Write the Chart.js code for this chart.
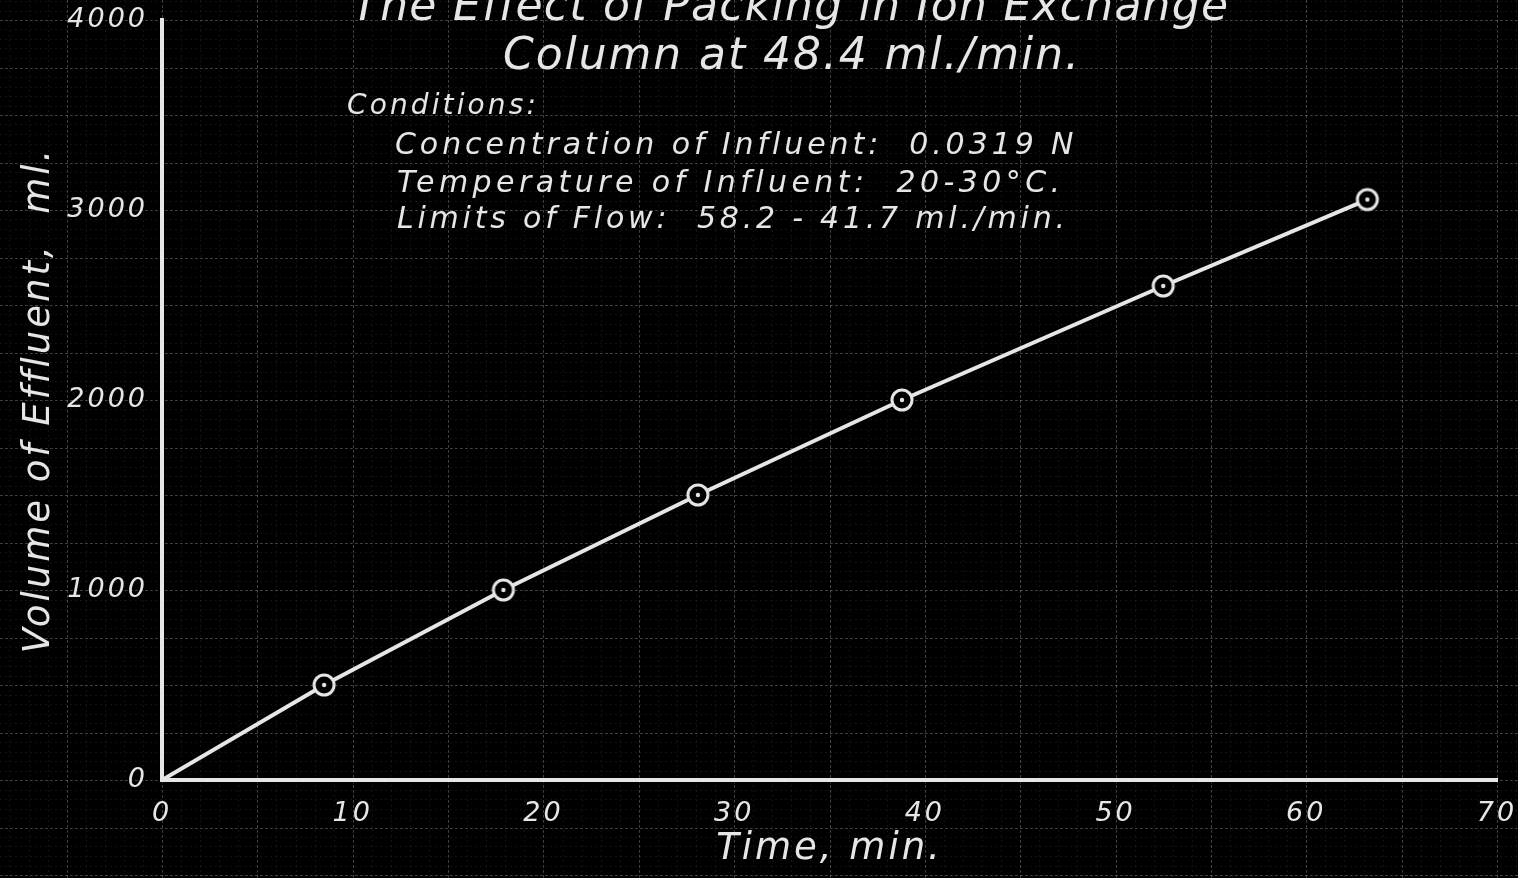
<!DOCTYPE html>
<html>
<head>
<meta charset="utf-8">
<script src="https://cdn.jsdelivr.net/npm/chart.js@4/dist/chart.umd.min.js"></script>
<style>
  html, body { margin: 0; padding: 0; background: #000; overflow: hidden; }
  canvas { display: block; }
</style>
</head>
<body>
<canvas id="myChart" width="1518" height="878"></canvas>
<script>
    // data
    const timeMin = [0, 8.5, 17.9, 28.1, 38.8, 52.5, 63.2];
    const volumeMl = [0, 500, 1000, 1500, 2000, 2600, 3055];
    const xTicks = [0, 10, 20, 30, 40, 50, 60, 70];
    const yTicks = [0, 1000, 2000, 3000, 4000];
    const titleLines = ['The Effect of Packing in Ion Exchange', 'Column at 48.4 ml./min.'];
    const conditionsHead = 'Conditions:';
    const conditionLines = [
      'Concentration of Influent:  0.0319 N',
      'Temperature of Influent:  20-30°C.',
      'Limits of Flow:  58.2 - 41.7 ml./min.'
    ];

    const ink = '#e6e6e6';
    const fontFam = '"DejaVu Sans", sans-serif';

    // ring marker with a dot in the middle
    const marker = document.createElement('canvas');
    marker.width = 28; marker.height = 28;
    (function () {
      const m = marker.getContext('2d');
      m.fillStyle = '#000';
      m.beginPath(); m.arc(14, 14, 11, 0, Math.PI * 2); m.fill();
      m.strokeStyle = ink; m.lineWidth = 3;
      m.beginPath(); m.arc(14, 14, 10, 0, Math.PI * 2); m.stroke();
      m.fillStyle = ink;
      m.beginPath(); m.arc(14, 14, 2.2, 0, Math.PI * 2); m.fill();
    })();

    // text stretched to a given width
    function letterText(ctx, text, x, y, size, width, align) {
      ctx.font = 'italic ' + size + 'px ' + fontFam;
      ctx.letterSpacing = '0px';
      const w = ctx.measureText(text).width;
      const sp = Math.max(0, (width - w) / text.length);
      ctx.letterSpacing = sp.toFixed(2) + 'px';
      ctx.textAlign = 'left';
      ctx.textBaseline = 'alphabetic';
      let x0 = x;
      if (align === 'center') x0 = x - width / 2;
      ctx.fillText(text, x0, y);
    }

    const paperPlugin = {
      id: 'paper',
      beforeDraw(chart) {
        const { ctx, scales: { x, y } } = chart;
        const W = chart.width, H = chart.height;
        ctx.save();
        ctx.fillStyle = '#000';
        ctx.fillRect(0, 0, W, H);
        // fine grid
        ctx.setLineDash([2, 3]);
        ctx.lineWidth = 1;
        ctx.strokeStyle = 'rgba(255,255,255,0.07)';
        for (let v = -10; v <= 75; v += 1) {
          const px = Math.round(x.getPixelForValue(v)) + 0.5;
          ctx.beginPath(); ctx.moveTo(px, 0); ctx.lineTo(px, H); ctx.stroke();
        }
        for (let v = -600; v <= 4200; v += 50) {
          const py = Math.round(y.getPixelForValue(v)) + 0.5;
          ctx.beginPath(); ctx.moveTo(0, py); ctx.lineTo(W, py); ctx.stroke();
        }
        // heavier grid
        ctx.setLineDash([3, 2]);
        ctx.strokeStyle = 'rgba(255,255,255,0.2)';
        for (let v = -10; v <= 75; v += 5) {
          const px = Math.round(x.getPixelForValue(v)) + 0.5;
          ctx.beginPath(); ctx.moveTo(px, 0); ctx.lineTo(px, H); ctx.stroke();
        }
        for (let v = -500; v <= 4250; v += 250) {
          const py = Math.round(y.getPixelForValue(v)) + 0.5;
          ctx.beginPath(); ctx.moveTo(0, py); ctx.lineTo(W, py); ctx.stroke();
        }
        ctx.restore();
        // hand lettering is widely spaced
        ctx.letterSpacing = '3px';
      },
      afterDraw(chart) {
        const { ctx } = chart;
        ctx.save();
        ctx.fillStyle = ink;
        letterText(ctx, titleLines[0], 791, 20, 44, 878, 'center');
        letterText(ctx, titleLines[1], 792, 69, 44, 578, 'center');
        letterText(ctx, conditionsHead, 347, 114, 28, 192, 'left');
        letterText(ctx, conditionLines[0], 395, 154, 30, 683, 'left');
        letterText(ctx, conditionLines[1], 397, 192, 30, 668, 'left');
        letterText(ctx, conditionLines[2], 397, 228, 30, 672, 'left');
        ctx.restore();
      }
    };

    const data = {
      datasets: [{
        label: 'Volume of Effluent',
        data: timeMin.map((t, i) => ({ x: t, y: volumeMl[i] })),
        borderColor: ink,
        borderWidth: 4,
        tension: 0,
        pointStyle: marker,
        pointRadius: volumeMl.map((v, i) => i === 0 ? 0 : 11),
        pointHoverRadius: 11
      }]
    };

    const config = {
      type: 'line',
      data,
      options: {
        responsive: false,
        animation: false,
        layout: { padding: { top: 20, right: 21, left: 0, bottom: 0 } },
        plugins: {
          legend: { display: false },
          tooltip: { enabled: false }
        },
        scales: {
          x: {
            type: 'linear',
            min: 0,
            max: 70,
            afterFit(scale) {
              scale.height = 98;
              scale.paddingLeft = 0;
              scale.paddingRight = 0;
            },
            afterBuildTicks(scale) { scale.ticks = xTicks.map(v => ({ value: v })); },
            grid: { display: false },
            border: { display: true, color: ink, width: 4 },
            ticks: {
              color: ink,
              padding: 10,
              maxRotation: 0,
              callback: v => String(v),
              font: { family: fontFam, size: 27, style: 'italic' }
            },
            title: {
              display: true,
              text: 'Time, min.',
              color: ink,
              padding: { top: 0, bottom: 6 },
              font: { family: fontFam, size: 37, style: 'italic' }
            }
          },
          y: {
            type: 'linear',
            min: 0,
            max: 4000,
            afterFit(scale) {
              scale.width = 162;
              scale.paddingTop = 0;
              scale.paddingBottom = 0;
            },
            afterBuildTicks(scale) { scale.ticks = yTicks.map(v => ({ value: v })); },
            grid: { display: false },
            border: { display: true, color: ink, width: 4 },
            ticks: {
              color: ink,
              padding: 6,
              callback: v => String(v),
              font: { family: fontFam, size: 27, style: 'italic' }
            },
            title: {
              display: true,
              text: 'Volume of Effluent,  ml.',
              color: ink,
              padding: { top: 17, bottom: 0 },
              font: { family: fontFam, size: 37, style: 'italic' }
            }
          }
        }
      },
      plugins: [paperPlugin]
    };

    const ctx = document.getElementById('myChart');
    const myChart = new Chart(ctx, config);
</script>
</body>
</html>
